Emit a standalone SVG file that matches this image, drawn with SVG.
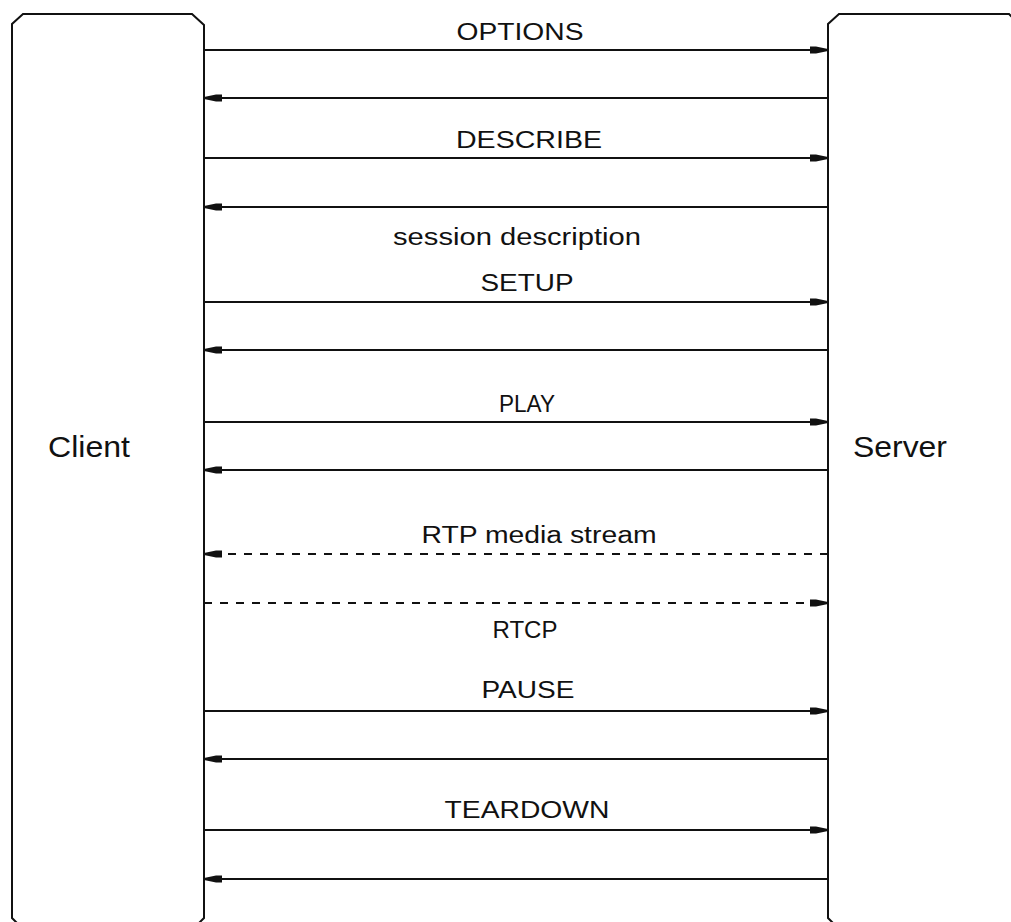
<svg xmlns="http://www.w3.org/2000/svg" width="1011" height="922" viewBox="0 0 1011 922">
  <style>
    .box { fill: none; stroke: #111; stroke-width: 2; }
    .msg { stroke: #111; stroke-width: 2; fill: none; }
    .dash { stroke-dasharray: 8 8; }
    .lbl { font-family: "Liberation Sans", Arial, sans-serif; font-size: 23px; fill: #111; text-anchor: middle; }
    .name { font-family: "Liberation Sans", Arial, sans-serif; font-size: 30px; fill: #111; }
  </style>
  <defs>
    <marker id="head" viewBox="0 0 18 10" refX="18" refY="5" markerWidth="18" markerHeight="10" markerUnits="userSpaceOnUse" orient="auto">
      <path d="M0,1.5 L6,1.5 L18,4 L18,6 L6,8.5 L0,8.5 Z" fill="#111"/>
    </marker>
  </defs>
  <rect width="1011" height="922" fill="#fff"/>

  <g id="client">
    <path class="box" d="M12,918 V24 L23,14 H192 L204,25 V918 L193,929 H23 Z"/>
    <text class="name" x="48" y="457" textLength="82" lengthAdjust="spacingAndGlyphs">Client</text>
  </g>

  <g id="server">
    <path class="box" d="M828,918 V24 L839,14 H1009 L1020,25 V918 L1009,929 H839 Z"/>
    <text class="name" x="853" y="457" textLength="94" lengthAdjust="spacingAndGlyphs">Server</text>
  </g>

  <g id="connectors">
    <line class="msg" x1="204" y1="50" x2="828" y2="50" marker-end="url(#head)"/>
    <line class="msg" x1="828" y1="98" x2="204" y2="98" marker-end="url(#head)"/>
    <line class="msg" x1="204" y1="158" x2="828" y2="158" marker-end="url(#head)"/>
    <line class="msg" x1="828" y1="207" x2="204" y2="207" marker-end="url(#head)"/>
    <line class="msg" x1="204" y1="302" x2="828" y2="302" marker-end="url(#head)"/>
    <line class="msg" x1="828" y1="350" x2="204" y2="350" marker-end="url(#head)"/>
    <line class="msg" x1="204" y1="422" x2="828" y2="422" marker-end="url(#head)"/>
    <line class="msg" x1="828" y1="470" x2="204" y2="470" marker-end="url(#head)"/>
    <line class="msg dash" x1="828" y1="554" x2="204" y2="554" marker-end="url(#head)"/>
    <line class="msg dash" x1="204" y1="603" x2="828" y2="603" marker-end="url(#head)"/>
    <line class="msg" x1="204" y1="711" x2="828" y2="711" marker-end="url(#head)"/>
    <line class="msg" x1="828" y1="759" x2="204" y2="759" marker-end="url(#head)"/>
    <line class="msg" x1="204" y1="830" x2="828" y2="830" marker-end="url(#head)"/>
    <line class="msg" x1="828" y1="879" x2="204" y2="879" marker-end="url(#head)"/>
  </g>

  <g id="labels">
    <text class="lbl" x="520" y="40" textLength="127" lengthAdjust="spacingAndGlyphs">OPTIONS</text>
    <text class="lbl" x="529" y="148" textLength="146" lengthAdjust="spacingAndGlyphs">DESCRIBE</text>
    <text class="lbl" x="517" y="245" textLength="248" lengthAdjust="spacingAndGlyphs">session description</text>
    <text class="lbl" x="527" y="291" textLength="93" lengthAdjust="spacingAndGlyphs">SETUP</text>
    <text class="lbl" x="527" y="412" textLength="56" lengthAdjust="spacingAndGlyphs">PLAY</text>
    <text class="lbl" x="539" y="543" textLength="235" lengthAdjust="spacingAndGlyphs">RTP media stream</text>
    <text class="lbl" x="525" y="638" textLength="65" lengthAdjust="spacingAndGlyphs">RTCP</text>
    <text class="lbl" x="528" y="698" textLength="93" lengthAdjust="spacingAndGlyphs">PAUSE</text>
    <text class="lbl" x="527" y="818" textLength="165" lengthAdjust="spacingAndGlyphs">TEARDOWN</text>
  </g>
</svg>
